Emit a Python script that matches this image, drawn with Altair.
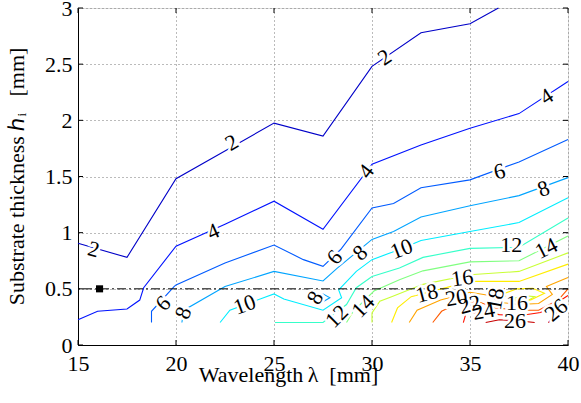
import altair as alt
import pandas as pd

# ---------------- contour polylines (wavelength [mm], thickness [mm]) ----------------
c2_lam = [15, 17.5, 20, 25, 27.5, 30, 32.5, 35, 36.45]
c2_h = [0.905, 0.78, 1.48, 1.975, 1.86, 2.48, 2.78, 2.86, 3.0]

c4_lam = [15, 16, 17.5, 18.15, 18.35, 20, 22.5, 25, 27.5, 30, 32.5, 35, 37.5, 40]
c4_h = [0.225, 0.30, 0.32, 0.40, 0.51, 0.88, 1.075, 1.28, 1.03, 1.61, 1.78, 1.93, 2.06, 2.345]

c6_lam = [18.75, 18.75, 19.9, 20, 22.5, 25, 26.5, 27.5, 28.4, 30, 31.1, 32.5, 35, 37.5, 40]
c6_h = [0.2, 0.30, 0.52, 0.535, 0.73, 0.89, 0.76, 0.70, 0.85, 1.22, 1.26, 1.40, 1.47, 1.63, 1.83]

c8_lam = [20.3, 20.4, 22.5, 25, 27.5, 28.2, 30, 31.1, 32.5, 35, 37.5, 40]
c8_h = [0.2, 0.31, 0.52, 0.655, 0.57, 0.68, 0.94, 1.01, 1.14, 1.24, 1.33, 1.49]

c8b_lam = [27.5, 27.85, 27.5, 27.25, 27.5]
c8b_h = [0.455, 0.42, 0.385, 0.42, 0.455]

c10_lam = [22.25, 22.75, 25, 25.5, 27.5, 28.45, 28.3, 29.2, 30, 31.4, 32.5, 35, 37.5, 40]
c10_h = [0.2, 0.31, 0.455, 0.41, 0.31, 0.42, 0.49, 0.655, 0.76, 0.85, 0.93, 1.01, 1.09, 1.31]

c12_lam = [25.05, 27.5, 28.7, 29.2, 30, 31.4, 32.6, 35, 37.5, 40]
c12_h = [0.2, 0.2, 0.36, 0.51, 0.61, 0.685, 0.78, 0.86, 0.87, 1.13]

c14_lam = [28.7, 29.05, 30.1, 31.4, 32.6, 35, 37.5, 40]
c14_h = [0.2, 0.30, 0.48, 0.58, 0.66, 0.74, 0.75, 0.97]

c16_lam = [30, 30, 30.4, 31, 32.6, 35, 37.5, 40]
c16_h = [0.2, 0.285, 0.39, 0.43, 0.54, 0.625, 0.655, 0.82]

c16b_lam = [37.0, 37.7, 38.3, 37.8, 37.0]
c16b_h = [0.40, 0.44, 0.43, 0.38, 0.40]

c18_lam = [31, 31.3, 32, 35, 37.5, 40]
c18_h = [0.2, 0.33, 0.43, 0.566, 0.566, 0.72]

c18b_lam = [36.6, 37.4, 38.2, 38.8, 38.1, 37.3, 36.6]
c18b_h = [0.45, 0.50, 0.505, 0.46, 0.40, 0.40, 0.45]

c20_lam = [31.9, 32.3, 33.5, 35, 36, 36.5, 37.5, 38.5, 39.2, 38.9, 40]
c20_h = [0.2, 0.31, 0.40, 0.47, 0.44, 0.38, 0.36, 0.37, 0.45, 0.52, 0.60]

c22_lam = [33.1, 33.55, 34.6, 35.5, 36.3, 37.5, 38.5, 39.5, 40]
c22_h = [0.2, 0.30, 0.39, 0.38, 0.33, 0.31, 0.31, 0.40, 0.50]

c24_lam = [34.66, 34.8, 35.6, 36.5, 37.5, 38.6, 39.2, 40]
c24_h = [0.2, 0.285, 0.29, 0.27, 0.26, 0.29, 0.35, 0.44]

c26_lam = [35.8, 36.5, 37.5, 38.3]
c26_h = [0.2, 0.225, 0.215, 0.2]

c26b_lam = [39.0, 39.4, 40]
c26b_h = [0.2, 0.28, 0.36]

contours = [
    (2, c2_lam, c2_h), (4, c4_lam, c4_h), (6, c6_lam, c6_h),
    (8, c8_lam, c8_h), (8, c8b_lam, c8b_h), (10, c10_lam, c10_h),
    (12, c12_lam, c12_h), (14, c14_lam, c14_h), (16, c16_lam, c16_h),
    (16, c16b_lam, c16b_h), (18, c18_lam, c18_h), (18, c18b_lam, c18b_h),
    (20, c20_lam, c20_h), (22, c22_lam, c22_h), (24, c24_lam, c24_h),
    (26, c26_lam, c26_h), (26, c26b_lam, c26b_h),
]

levels = [2, 4, 6, 8, 10, 12, 14, 16, 18, 20, 22, 24, 26]
jet_colors = ["#0000C8", "#0012FF", "#005BFF", "#00A4FF", "#00EDFF", "#36FFC9", "#80FF80",
              "#C9FF36", "#FFED00", "#FFA400", "#FF5B00", "#FF1200", "#C80000"]

# contour labels
label_text = ["2", "2", "2", "4", "4", "4", "6", "6", "6", "8", "8", "8", "8",
              "10", "10", "12", "12", "14", "14", "16", "18", "20", "22", "24",
              "18", "16", "26", "26"]
label_lam = [15.8, 22.85, 30.65, 21.9, 29.7, 38.9, 19.35, 28.1, 36.5, 20.37, 29.4, 27.1, 38.75,
             23.5, 31.5, 28.2, 37.1, 29.55, 38.9, 34.6, 32.8, 34.3, 35.0, 35.7,
             36.3, 37.4, 37.3, 39.4]
label_h = [0.85, 1.80, 2.56, 1.01, 1.545, 2.21, 0.37, 0.78, 1.545, 0.285, 0.82, 0.42, 1.39,
           0.36, 0.855, 0.255, 0.89, 0.345, 0.86, 0.595, 0.46, 0.42, 0.36, 0.30,
           0.41, 0.37, 0.21, 0.31]
label_angle = [15, 330, 326, 336, 307, 327, 315, 310, 345, 290, 318, 300, 340,
               340, 339, 315, 0, 314, 333, 352, 345, 350, 345, 350,
               280, 0, 0, 320]

x_ticks = [15, 20, 25, 30, 35, 40]
y_ticks = [0, 0.5, 1, 1.5, 2, 2.5, 3]

marker_lam = [16.1]
marker_h = [0.5]
ref_h = [0.5]

# ---------------- build tables ----------------
rows = []
for seg, (lev, lams, hs) in enumerate(contours):
    for i, (a, b) in enumerate(zip(lams, hs)):
        rows.append({"lam": a, "h": b, "level": lev, "seg": seg, "ord": i})
df = pd.DataFrame(rows)

lab = pd.DataFrame({"t": label_text, "lam": label_lam, "h": label_h, "ang": label_angle})

W, H = 490, 337
FONT = "Liberation Serif"
FS = 22

xs = alt.Scale(domain=[15, 40], nice=False, zero=False)
ys = alt.Scale(domain=[0, 3], nice=False, zero=False)

axis_style = dict(labelFont=FONT, labelFontSize=FS, labelColor="black",
                  titleFont=FONT, titleFontSize=FS, titleColor="black", titleFontWeight="normal",
                  domainColor="black", domainWidth=1,
                  gridColor="#777777", gridDash=[1, 3], gridWidth=1, gridOpacity=1,
                  labelOverlap=False, grid=True, ticks=False)

xaxis = alt.Axis(values=x_ticks, title="Wavelength\u2009\u03bb\u00a0\u00a0[mm]",
                 labelFlush=False, labelPadding=8, format="d",
                 titleX=210, titleY=36, titleBaseline="alphabetic", **axis_style)
yaxis = alt.Axis(values=y_ticks, title="Substrate thickness \u210e\u1d62\u00a0\u00a0\u00a0[mm]",
                 labelPadding=6, format="~g",
                 titleX=-55, titleY=168, titleBaseline="alphabetic", titleAngle=270, **axis_style)

lines = alt.Chart(df).mark_line(strokeWidth=1.1).encode(
    x=alt.X("lam:Q", scale=xs, axis=xaxis),
    y=alt.Y("h:Q", scale=ys, axis=yaxis),
    color=alt.Color("level:O", scale=alt.Scale(domain=levels, range=jet_colors), legend=None),
    detail="seg:N",
    order="ord:Q",
)

ref = alt.Chart(pd.DataFrame({"h": ref_h})).mark_rule(
    color="black", strokeWidth=1, strokeDash=[9, 3, 2, 3]
).encode(y=alt.Y("h:Q", scale=ys))

marker = alt.Chart(pd.DataFrame({"lam": marker_lam, "h": marker_h})).mark_square(
    size=50, color="black", opacity=1
).encode(x=alt.X("lam:Q", scale=xs), y=alt.Y("h:Q", scale=ys))

halo = alt.Chart(lab).mark_text(
    font=FONT, fontSize=FS, fill="white", stroke="white", strokeWidth=5,
    align="center", baseline="middle"
).encode(x=alt.X("lam:Q", scale=xs), y=alt.Y("h:Q", scale=ys),
         text="t:N", angle=alt.Angle("ang:Q", scale=None))

text = alt.Chart(lab).mark_text(
    font=FONT, fontSize=FS, color="black", align="center", baseline="middle"
).encode(x=alt.X("lam:Q", scale=xs), y=alt.Y("h:Q", scale=ys),
         text="t:N", angle=alt.Angle("ang:Q", scale=None))

xt = pd.DataFrame({"t": x_ticks})
yt = pd.DataFrame({"t": y_ticks})
tick_b = alt.Chart(xt).mark_rule(color="black").encode(
    x=alt.X("t:Q", scale=xs), y=alt.value(H), y2=alt.value(H - 5))
tick_t = alt.Chart(xt).mark_rule(color="black").encode(
    x=alt.X("t:Q", scale=xs), y=alt.value(0), y2=alt.value(5))
tick_l = alt.Chart(yt).mark_rule(color="black").encode(
    y=alt.Y("t:Q", scale=ys), x=alt.value(0), x2=alt.value(5))
tick_r = alt.Chart(yt).mark_rule(color="black").encode(
    y=alt.Y("t:Q", scale=ys), x=alt.value(W), x2=alt.value(W - 5))

chart = alt.layer(lines, ref, marker, halo, text, tick_b, tick_t, tick_l, tick_r).properties(
    width=W, height=H,
    autosize=alt.AutoSizeParams(type="none"),
    padding={"left": 78, "top": 8, "right": 13, "bottom": 58},
    background="white",
).configure_view(
    stroke="black", strokeWidth=1
).configure(font=FONT)

chart.save("out.html", embed_options={"renderer": "svg", "actions": False})
